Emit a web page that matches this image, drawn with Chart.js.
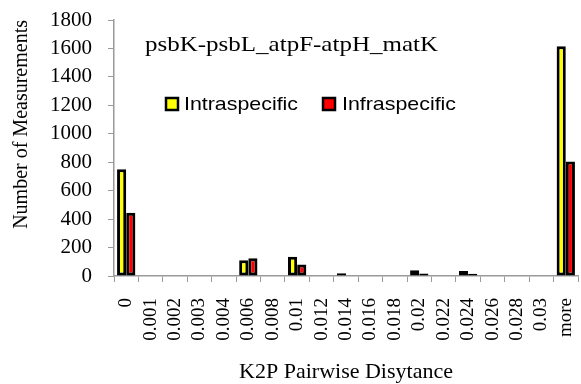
<!DOCTYPE html>
<html>
<head>
<meta charset="utf-8">
<script src="https://cdn.jsdelivr.net/npm/chart.js@4.4.1/dist/chart.umd.min.js"></script>
<style>
  html, body { margin: 0; padding: 0; background: #fff; }
  #wrap { width: 581px; height: 384px; }
</style>
</head>
<body>
<div id="wrap"><canvas id="distChart"></canvas></div>
<script>
// K2P distance bins and pair counts
const distanceBins = ['0', '0.001', '0.002', '0.003', '0.004', '0.006', '0.008', '0.01', '0.012',
  '0.014', '0.016', '0.018', '0.02', '0.022', '0.024', '0.026', '0.028', '0.03', 'more'];
const intraCounts = [750, 0, 0, 0, 0, 110, 0, 135, 0, 20, 0, 0, 40, 0, 35, 0, 0, 0, 1615];
const infraCounts = [445, 0, 0, 0, 0, 125, 0, 80, 0, 0, 0, 0, 18, 0, 15, 0, 0, 0, 805];
const seriesNames = ['Intraspecific', 'Infraspecific'];
const yMax = 1800;
const yStep = 200;
const chartTitle = 'psbK-psbL_atpF-atpH_matK';

const serif = "'Liberation Serif', 'Times New Roman', serif";
const sans = "'Liberation Sans', Arial, sans-serif";
const axisGrey = '#9a9a9a';

// draws text squeezed/stretched to a given width
function fitText(ctx, text, x, y, width) {
  const w = ctx.measureText(text).width;
  ctx.save();
  ctx.translate(x, y);
  ctx.scale(width / w, 1);
  ctx.fillText(text, 0, 0);
  ctx.restore();
}

// title and legend sit inside the plot area
const insideLabels = {
  id: 'insideLabels',
  afterDraw(chart) {
    const ctx = chart.ctx;
    ctx.save();
    ctx.fillStyle = '#000';
    ctx.textBaseline = 'middle';
    ctx.textAlign = 'left';
    ctx.font = '21px ' + serif;
    fitText(ctx, chartTitle, 145, 45, 293);

    const items = [
      { x: 166, tx: 184, ds: chart.data.datasets[0] },
      { x: 323, tx: 342, ds: chart.data.datasets[1] }
    ];
    ctx.font = '19px ' + sans;
    items.forEach(it => {
      ctx.fillStyle = it.ds.backgroundColor;
      ctx.fillRect(it.x, 98, 12, 12);
      ctx.lineWidth = 2.5;
      ctx.strokeStyle = '#000';
      ctx.strokeRect(it.x, 98, 12, 12);
      ctx.fillStyle = '#000';
      fitText(ctx, it.ds.label, it.tx, 105, 114);
    });
    ctx.restore();
  }
};

const ctx = document.getElementById('distChart').getContext('2d');
const distChart = new Chart(ctx, {
  type: 'bar',
  data: {
    labels: distanceBins,
    datasets: [{
      label: seriesNames[0],
      data: intraCounts,
      backgroundColor: '#ffff00',
      borderColor: '#000',
      borderWidth: 3,
      borderSkipped: false
    }, {
      label: seriesNames[1],
      data: infraCounts,
      backgroundColor: '#ff0000',
      borderColor: '#000',
      borderWidth: 3,
      borderSkipped: false
    }]
  },
  options: {
    responsive: true,
    maintainAspectRatio: false,
    animation: false,
    layout: { padding: { top: 20, right: 3, left: 10, bottom: 0 } },
    datasets: { bar: { categoryPercentage: 0.75, barPercentage: 1.0 } },
    plugins: {
      legend: { display: false },
      title: { display: false },
      tooltip: { enabled: false }
    },
    scales: {
      x: {
        offset: true,
        afterFit(scale) {
          scale.height = 108;
          scale.paddingLeft = 0;
          scale.paddingRight = 0;
        },
        grid: {
          display: true,
          offset: true,
          drawOnChartArea: false,
          color: axisGrey,
          tickLength: 6
        },
        border: { color: axisGrey, width: 1.5 },
        ticks: {
          color: '#000',
          font: { family: serif, size: 19 },
          minRotation: 90,
          maxRotation: 90,
          autoSkip: false,
          padding: 16
        },
        title: {
          display: true,
          text: 'K2P Pairwise Disytance',
          color: '#000',
          font: { family: serif, size: 22, lineHeight: 1.05 },
          padding: { top: 0, bottom: 0 }
        }
      },
      y: {
        min: 0,
        max: yMax,
        afterFit(scale) {
          scale.width = 104;
          scale.paddingTop = 0;
          scale.paddingBottom = 0;
        },
        grid: {
          display: true,
          drawOnChartArea: false,
          color: axisGrey,
          tickLength: 6
        },
        border: { color: axisGrey, width: 1.5 },
        ticks: {
          stepSize: yStep,
          autoSkip: false,
          color: '#000',
          font: { family: serif, size: 21, lineHeight: 1 },
          padding: 16,
          callback: v => String(v)
        },
        title: {
          display: true,
          text: 'Number of Measurements',
          align: 'end',
          color: '#000',
          font: { family: serif, size: 20 },
          padding: { top: 0, bottom: 0 }
        }
      }
    }
  },
  plugins: [insideLabels]
});
</script>
</body>
</html>
